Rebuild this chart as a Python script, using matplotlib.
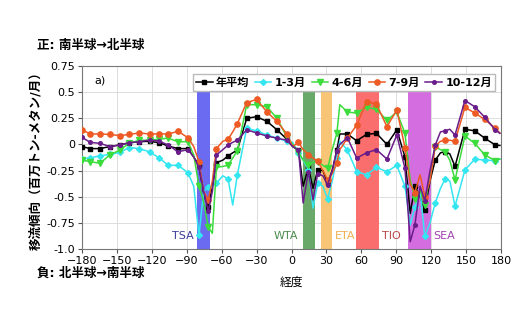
import matplotlib.pyplot as plt
import numpy as np

plt.rcParams['font.family'] = ['DejaVu Sans', 'Noto Sans CJK JP']

# longitude of each sample (deg)
lon = [-180, -173, -164.5, -156, -147.5, -139.5, -131, -122, -113.5, -106,
       -97.5, -89, -84, -79.5, -75.5, -71.5, -68, -64.5, -59, -54.5,
       -50.5, -46.5, -38.5, -30, -21, -12.5, -4, 1, 6, 10,
       14.5, 18.5, 22.5, 27, 31, 35, 39, 41.5, 48, 56,
       64.5, 73, 82, 90.5, 97.5, 102, 106, 110.5, 114.5, 119,
       123.5, 128, 132, 136, 140.5, 149, 157.5, 166, 175, 179]
# samples drawn without marker
no_marker = [-84, -75.5, -68, -59, -50.5, 1, 10, 18.5, 27, 35, 41.5,
             102, 110.5, 119, 128, 136, 179]

annual = [-0.02, -0.04, -0.04, -0.02, -0.005, 0.016, 0.026, 0.03, 0.016, -0.015,
          -0.04, -0.04, -0.12, -0.20, -0.47, -0.60, -0.40, -0.175, -0.15, -0.11,
          -0.08, -0.055, 0.25, 0.265, 0.22, 0.14, 0.05, -0.02, -0.054, -0.40,
          -0.22, -0.42, -0.24, -0.25, -0.37, -0.25, -0.05, 0.10, 0.10, 0.035,
          0.096, 0.106, 0.0, 0.14, -0.12, -0.66, -0.40, -0.50, -0.63, -0.35,
          -0.15, -0.08, -0.07, -0.09, -0.21, 0.145, 0.13, 0.06, -0.005, -0.01]
jan_mar = [-0.14, -0.127, -0.11, -0.095, -0.076, -0.03, -0.04, -0.07, -0.13, -0.20,
           -0.20, -0.27, -0.40, -0.87, -0.45, -0.41, -0.40, -0.37, -0.30, -0.33,
           -0.58, -0.29, 0.154, 0.13, 0.09, 0.06, 0.03, 0.02, -0.085, -0.15,
           -0.24, -0.61, -0.37, -0.40, -0.52, -0.35, -0.13, 0.03, -0.054, -0.26,
           -0.29, -0.22, -0.26, -0.20, -0.40, -0.77, -0.60, -0.44, -0.88, -0.75,
           -0.56, -0.42, -0.33, -0.35, -0.59, -0.245, -0.14, -0.15, -0.155, -0.14]
apr_jun = [-0.15, -0.165, -0.18, -0.10, -0.054, 0.01, 0.04, 0.04, 0.05, 0.06,
           0.026, 0.026, -0.10, -0.40, -0.55, -0.79, -0.85, -0.22, -0.21, -0.20,
           -0.13, -0.06, 0.38, 0.38, 0.36, 0.25, 0.07, 0.0, -0.07, -0.15,
           -0.20, -0.17, -0.165, -0.20, -0.23, -0.05, 0.11, 0.38, 0.31, 0.30,
           0.355, 0.335, 0.23, 0.31, 0.106, -0.34, -0.52, -0.44, -0.58, -0.30,
           -0.02, -0.05, -0.07, -0.15, -0.34, 0.08, 0.01, -0.10, -0.155, -0.14]
jul_sep = [0.14, 0.10, 0.10, 0.095, 0.085, 0.095, 0.11, 0.10, 0.10, 0.10,
           0.125, 0.065, -0.02, -0.165, -0.45, -0.53, -0.35, -0.04, 0.03, 0.05,
           0.12, 0.20, 0.40, 0.43, 0.31, 0.22, 0.10, -0.02, 0.02, -0.05,
           -0.10, -0.13, -0.16, -0.25, -0.34, -0.28, -0.175, -0.05, 0.06, 0.185,
           0.41, 0.385, 0.17, 0.33, -0.03, -0.38, -0.46, -0.29, -0.50, -0.35,
           -0.015, 0.03, 0.04, 0.04, 0.03, 0.355, 0.30, 0.24, 0.155, 0.11]
oct_dec = [0.068, 0.02, 0.01, -0.02, -0.005, 0.016, 0.026, 0.042, 0.032, -0.006,
           -0.07, -0.05, -0.12, -0.22, -0.45, -0.64, -0.45, -0.10, -0.05, -0.006,
           0.02, 0.04, 0.14, 0.11, 0.08, 0.06, 0.04, -0.02, -0.054, -0.56,
           -0.26, -0.53, -0.28, -0.30, -0.39, -0.25, -0.06, 0.0, 0.065, -0.13,
           -0.08, -0.05, -0.14, 0.09, -0.23, -0.93, -0.77, -0.40, -0.54, -0.25,
           -0.006, 0.12, 0.13, 0.145, 0.09, 0.42, 0.36, 0.26, 0.14, 0.106]

series = [
    ("年平均", annual, "black", "s", 3.5),
    ("1-3月", jan_mar, "#33e6f0", "D", 3),
    ("4-6月", apr_jun, "#3ddc3d", "v", 3.8),
    ("7-9月", jul_sep, "#ee5a24", "o", 3.8),
    ("10-12月", oct_dec, "#6a1d8a", "o", 2.6),
]

regions = ["TSA", "WTA", "ETA", "TIO", "SEA"]
reg_start = [-81, 10, 25, 55, 100]
reg_end = [-70, 20, 35, 75, 120]
reg_fill = ["#6b6bf2", "#68a868", "#f8c476", "#fa6e6e", "#d46ee0"]
reg_text = ["#3b3b9b", "#4c8c4c", "#f0b050", "#b84848", "#a040b0"]
reg_label_x = [-84, 6, 37, 78, 122]
reg_label_ha = ["right", "right", "left", "left", "left"]

fig = plt.figure(figsize=(5.3, 3.23), dpi=100)
ax = fig.add_axes([82/530, 1-249/323, 419/530, 183/323])

for i, name in enumerate(regions):
    ax.bar((reg_start[i]+reg_end[i])/2, 1.5, width=reg_end[i]-reg_start[i],
           bottom=-1.0, color=reg_fill[i], zorder=1)
    ax.text(reg_label_x[i], -0.88, name, color=reg_text[i], fontsize=8,
            ha=reg_label_ha[i], va='center', zorder=5)

marked = [x not in no_marker for x in lon]
for name, vals, col, mk, ms in series:
    ax.plot(lon, vals, color=col, marker=mk, markersize=ms, lw=1.1,
            markevery=marked, label=name, zorder=3)

ax.set_xlim(-180, 180)
ax.set_ylim(-1.0, 0.75)
ax.set_xticks(np.arange(-180, 181, 30))
ax.set_yticks([0.75, 0.5, 0.25, 0, -0.25, -0.5, -0.75, -1.0])
ax.set_yticklabels(["0.75", "0.5", "0.25", "0", "-0.25", "-0.5", "-0.75", "-1.0"])
ax.tick_params(labelsize=8, length=3, color='#555555', pad=2)
ax.grid(True, color='#dddddd', lw=0.7, zorder=0)
ax.set_axisbelow(True)
for s in ax.spines.values():
    s.set_color('#777777')

ax.text(-169, 0.61, "a)", fontsize=8, va='center')
ax.legend(loc='upper right', bbox_to_anchor=(1.0, 0.985), ncol=5,
          prop={'weight': 'bold', 'size': 8}, handlelength=1.5,
          handletextpad=0.3, columnspacing=0.5, borderpad=0.3,
          framealpha=1, edgecolor='#bbbbbb', fancybox=False)

ax.set_ylabel("移流傾向（百万トン-メタン/月）", fontsize=9, fontweight='bold')
ax.yaxis.set_label_coords(-40/419, 0.5)
ax.set_xlabel("経度", fontsize=8.5)
ax.xaxis.set_label_coords(0.5, -27/183)

fig.text(37/530, 1-46/323, "正: 南半球→北半球", fontsize=9, fontweight='bold', va='center')
fig.text(37/530, 1-273/323, "負: 北半球→南半球", fontsize=9, fontweight='bold', va='center')

fig.savefig("out.png", dpi=100)
